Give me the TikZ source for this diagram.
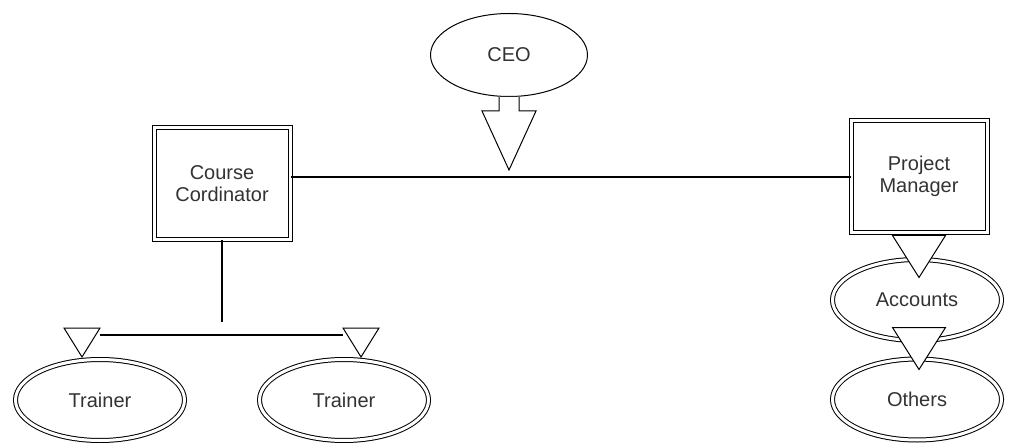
\documentclass[tikz,border=0pt]{standalone}
\usepackage{fontspec}
\setmainfont{Liberation Sans}
\usetikzlibrary{shapes.geometric}
\definecolor{orgline}{HTML}{000000}
\definecolor{orgtext}{HTML}{333333}

\begin{document}
\begin{tikzpicture}[x=0.5pt, y=-0.5pt,
  font=\fontsize{10pt}{11pt}\selectfont, text=orgtext,
  dbox/.style={draw=orgline, double, double distance=1.5pt, line width=0.5pt, minimum width=68pt, minimum height=56pt, align=center, inner sep=0pt},
  dell/.style={ellipse, draw=orgline, double, double distance=1.5pt, line width=0.5pt, minimum width=84.5pt, minimum height=40.5pt, inner sep=0pt},
  link/.style={draw=orgline, line width=1.1pt},
  tri/.style={draw=orgline, fill=white, line width=0.5pt, line join=miter}]
\useasboundingbox (0,0) rectangle (1011,443);

% Draw the people
\node[ellipse, draw=orgline, line width=0.5pt, minimum width=78.5pt, minimum height=41.5pt, inner sep=0pt] (ceo) at (509,55) {CEO};
\node[dbox] (cc) at (222,183.5) {Course\\Cordinator};
\node[dbox] (pm) at (919,176.5) {Project\\Manager};
\node[dell] (tr1) at (100,400) {Trainer};
\node[dell] (tr2) at (344,400) {Trainer};
\node[dell] (acc) at (917,300) {Accounts};
\node[dell] (oth) at (917,399.5) {Others};
\coordinate (bus) at (509,177);

% Connect them
\draw[link] (cc.east |- bus) -- (pm.west |- bus);
\draw[tri] ([xshift=-5pt]ceo.south) -- ++(0,14) -- ++(-17,0) -- ([yshift=3.5pt]bus)
  -- ++(27,-59) -- ++(-17,0) -- ++(0,-14);
\draw[link] (cc.south) -- ++(0,82);
\draw[link] ([shift={(0,-24)}]tr1.north) -- ([shift={(-1,-24)}]tr2.north);
\foreach \who/\dx in {tr1/-18, tr2/17}
  \draw[tri] ([shift={(\dx,-2)}]\who.north) -- ++(-18,-29) -- ++(36,0) -- cycle;
\draw[tri] ([shift={(0,44.5)}]pm.south) -- ++(-26.5,-42) -- ++(53,0) -- cycle;
\draw[tri] ([shift={(2,11)}]oth.north) -- ++(-26.5,-42) -- ++(53,0) -- cycle;
\end{tikzpicture}
\end{document}
